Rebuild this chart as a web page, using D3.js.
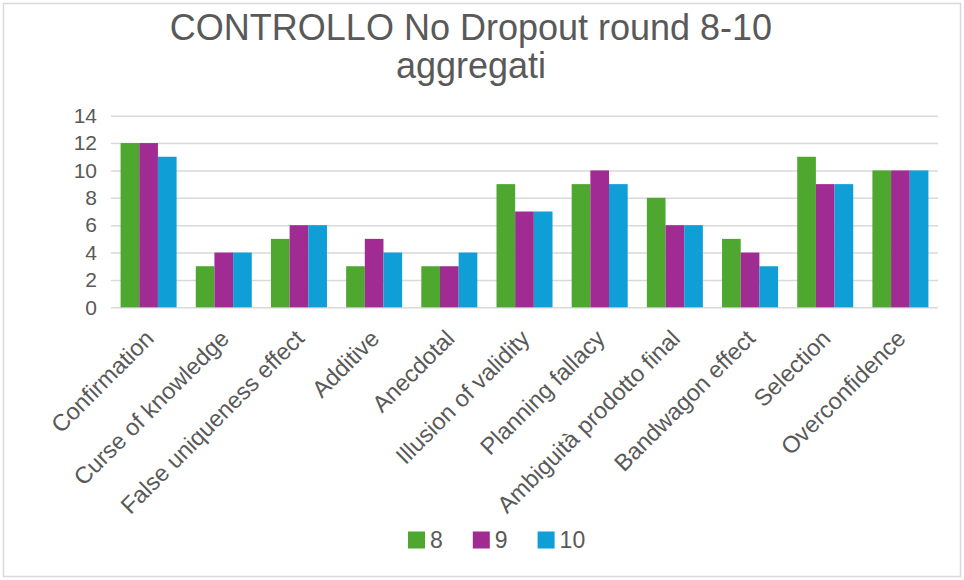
<!DOCTYPE html>
<html>
<head>
<meta charset="utf-8">
<script src="https://cdn.jsdelivr.net/npm/d3@7"></script>
<style>
  html, body { margin: 0; padding: 0; background: #ffffff; }
  svg { display: block; font-family: "Liberation Sans", Arial, sans-serif; }
</style>
</head>
<body>
<svg id="chart" width="964" height="580"></svg>
<script>
// Bias categories (x axis)
const categories = [
  "Confirmation",
  "Curse of knowledge",
  "False uniqueness effect",
  "Additive",
  "Anecdotal",
  "Illusion of validity",
  "Planning fallacy",
  "Ambiguità prodotto final",
  "Bandwagon effect",
  "Selection",
  "Overconfidence"
];

// Rounds shown as series
const seriesNames = ["8", "9", "10"];

// Counts per round
const round8  = [12, 3, 5, 3, 3, 9, 9, 8, 5, 11, 10];
const round9  = [12, 4, 6, 5, 3, 7, 10, 6, 4, 9, 10];
const round10 = [11, 4, 6, 4, 4, 7, 9, 6, 3, 9, 10];

const yTicks = [0, 2, 4, 6, 8, 10, 12, 14];

const seriesColors = ["#4EA72E", "#A02B93", "#0F9ED5"];

const titleLines = ["CONTROLLO No Dropout round 8-10", "aggregati"];

// ---- build table ----
const seriesValues = [round8, round9, round10];
const rows = categories.map((c, i) => ({
  category: c,
  values: seriesNames.map((s, j) => ({ key: s, value: seriesValues[j][i], color: seriesColors[j] }))
}));

const svg = d3.select("#chart");
const W = 964, H = 580;
const textColor = "#595959";

// outer frame
svg.append("rect")
  .attr("x", 3.5).attr("y", 3.5)
  .attr("width", W - 7).attr("height", H - 7)
  .attr("fill", "#ffffff")
  .attr("stroke", "#d9d9d9")
  .attr("stroke-width", 1.5);

const plot = { left: 111, right: 938, top: 115.7, bottom: 307.3 };

const x0 = d3.scaleBand()
  .domain(categories)
  .range([plot.left, plot.right])
  .paddingInner(0.255)
  .paddingOuter(0.1275);

const x1 = d3.scaleBand()
  .domain(seriesNames)
  .range([0, x0.bandwidth()]);

const y = d3.scaleLinear()
  .domain([0, 14])
  .range([plot.bottom, plot.top]);

// gridlines + y labels
const yAxis = d3.axisLeft(y)
  .tickValues(yTicks)
  .tickSize(-(plot.right - plot.left))
  .tickPadding(14);

const yg = svg.append("g")
  .attr("transform", `translate(${plot.left},0)`)
  .call(yAxis);
yg.select(".domain").remove();
yg.selectAll(".tick line")
  .attr("stroke", "#d9d9d9")
  .attr("stroke-width", 1.5);
yg.selectAll(".tick text")
  .attr("fill", textColor)
  .attr("font-size", 21)
  .attr("font-family", "Liberation Sans, Arial, sans-serif");

// bars
const groups = svg.append("g")
  .selectAll("g")
  .data(rows)
  .join("g")
  .attr("transform", d => `translate(${x0(d.category)},0)`);

groups.selectAll("rect")
  .data(d => d.values)
  .join("rect")
  .attr("x", d => x1(d.key))
  .attr("width", x1.bandwidth())
  .attr("y", d => y(d.value))
  .attr("height", d => y(0) - y(d.value))
  .attr("fill", d => d.color);

// category labels (rotated)
const xAxis = d3.axisBottom(x0).tickSize(0).tickPadding(0);
const xg = svg.append("g")
  .attr("transform", `translate(0,${plot.bottom})`)
  .call(xAxis);
xg.select(".domain").remove();
xg.selectAll(".tick text")
  .attr("fill", textColor)
  .attr("font-size", 23.5)
  .attr("font-family", "Liberation Sans, Arial, sans-serif")
  .attr("text-anchor", "end")
  .attr("dy", null)
  .attr("y", 0)
  .attr("x", 0)
  .attr("transform", "translate(1,27) rotate(-45)")
  .attr("dominant-baseline", "central");

// title
svg.append("text")
  .attr("x", 471)
  .attr("y", 40)
  .attr("text-anchor", "middle")
  .attr("fill", textColor)
  .attr("font-size", 36)
  .selectAll("tspan")
  .data(titleLines)
  .join("tspan")
  .attr("x", 471)
  .attr("dy", (d, i) => i === 0 ? 0 : 38)
  .text(d => d);

// legend
const legend = svg.append("g").attr("transform", "translate(408,540)");
let lx = 0;
seriesNames.forEach((s, i) => {
  const g = legend.append("g").attr("transform", `translate(${lx},0)`);
  g.append("rect")
    .attr("x", 0).attr("y", -8.5)
    .attr("width", 17).attr("height", 17)
    .attr("fill", seriesColors[i]);
  const t = g.append("text")
    .attr("x", 22).attr("y", 0)
    .attr("dominant-baseline", "central")
    .attr("fill", textColor)
    .attr("font-size", 23)
    .text(s);
  lx += 22 + t.node().getComputedTextLength() + 30;
});
</script>
</body>
</html>
